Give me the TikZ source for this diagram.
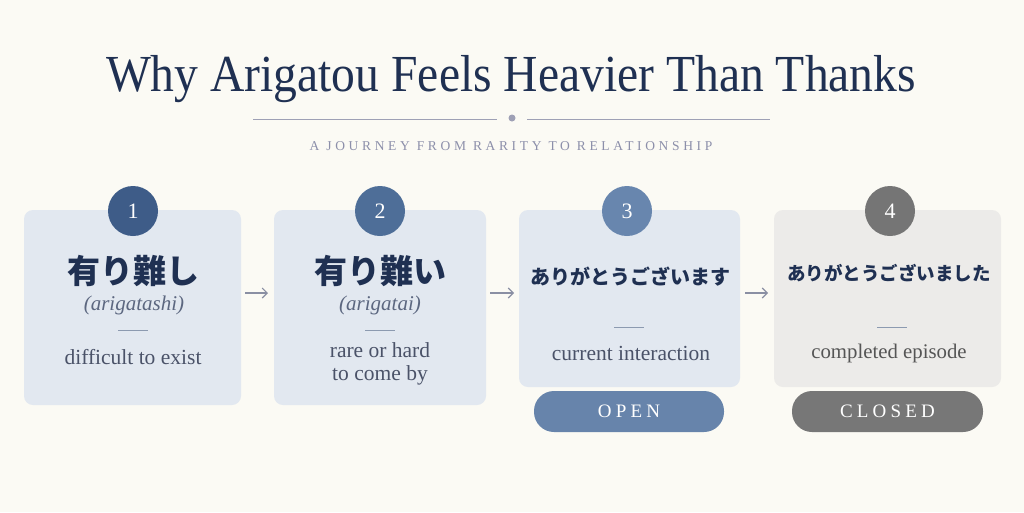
\documentclass[tikz,border=0pt]{standalone}
\usepackage{fontspec}
\setmainfont{Liberation Serif}
\newfontfamily\jp{Noto Sans CJK JP}
\newfontfamily\spaced[LetterSpace=27]{Liberation Serif}
\newfontfamily\pillfont[LetterSpace=22]{Liberation Serif}
\usetikzlibrary{arrows.meta}
\definecolor{bg}{HTML}{FBFAF4}
\definecolor{navy}{HTML}{1F3052}
\definecolor{divider}{HTML}{9EA0B5}
\definecolor{subt}{HTML}{8C8FAA}
\definecolor{cardblue}{HTML}{E2E8F0}
\definecolor{cardgray}{HTML}{ECEBE9}
\definecolor{cA}{HTML}{3E5C88}
\definecolor{cB}{HTML}{4E6E98}
\definecolor{cC}{HTML}{6886AE}
\definecolor{cD}{HTML}{757575}
\definecolor{roma}{HTML}{5C6780}
\definecolor{desc}{HTML}{4A5268}
\definecolor{descg}{HTML}{555555}
\definecolor{rule}{HTML}{8C9AB0}
\definecolor{pillblue}{HTML}{6784AB}
\definecolor{pillgray}{HTML}{777777}
\definecolor{arrowc}{HTML}{8A8FA3}
\tikzset{
  card/.style={rounded corners=9pt, inner sep=0pt, draw=none},
  badge/.style={circle, minimum size=50pt, inner sep=0pt, text=white, font=\fontsize{22}{24}\selectfont},
  kanji/.style={text=navy, font=\jp\bfseries\fontsize{33}{36}\selectfont, inner sep=0pt},
  kana/.style={text=navy, font=\jp\bfseries\fontsize{20}{22}\selectfont, inner sep=0pt},
  roman/.style={text=roma, font=\itshape\fontsize{21}{23}\selectfont, inner sep=0pt},
  descr/.style={text=desc, font=\fontsize{21.5}{23}\selectfont, inner sep=0pt, align=center},
  shortrule/.style={draw=rule, line width=0.8pt},
  pill/.style={rounded corners=20pt, inner sep=0pt, text=white, font=\pillfont\fontsize{19}{21}\selectfont},
  arr/.style={draw=arrowc, line width=1.1pt, -{Straight Barb[length=5pt,width=10pt]}}
}
\begin{document}
\begin{tikzpicture}[x=1pt,y=-1pt]
\fill[bg] (0,0) rectangle (1024,512);
\useasboundingbox (0,0) rectangle (1024,512);
% title
\node[text=navy, font=\fontsize{52}{56}\selectfont, inner sep=0pt] (title) at (511,79) {\scalebox{0.915}[1]{Why Arigatou Feels Heavier Than Thanks}};
\coordinate (l1a) at (253,119); \coordinate (l1b) at (497,119);
\coordinate (l2a) at (527,119); \coordinate (l2b) at (770,119);
\draw[divider, line width=1pt] (l1a) -- (l1b);
\draw[divider, line width=1pt] (l2a) -- (l2b);
\node[circle, fill=divider, minimum size=7pt, inner sep=0pt] (dot) at (512,118) {};
\node[text=subt, font=\spaced\fontsize{13.5}{15}\selectfont, inner sep=0pt] (subtitle) at (511,146) {A JOURNEY FROM RARITY TO RELATIONSHIP};
% cards
\node[card, fill=cardblue, minimum width=217pt, minimum height=195pt] (c1) at (132.5,307.5) {};
\node[card, fill=cardblue, minimum width=212pt, minimum height=195pt] (c2) at (380,307.5) {};
\node[card, fill=cardblue, minimum width=221pt, minimum height=177pt] (c3) at (629.5,298.5) {};
\node[card, fill=cardgray, minimum width=227pt, minimum height=177pt] (c4) at (887.5,298.5) {};
% badges
\node[badge, fill=cA] (b1) at (133,211) {1};
\node[badge, fill=cB] (b2) at (380,211) {2};
\node[badge, fill=cC] (b3) at (627,211) {3};
\node[badge, fill=cD] (b4) at (890,211) {4};
% card 1
\node[kanji] (k1) at (133,271) {有り難し};
\node[roman] (r1) at (134,305) {(arigatashi)};
\coordinate (s1a) at (118,330); \coordinate (s1b) at (148,330);
\draw[shortrule] (s1a) -- (s1b);
\node[descr] (d1) at (133,357) {difficult to exist};
% card 2
\node[kanji] (k2) at (380,271) {有り難い};
\node[roman] (r2) at (380,305) {(arigatai)};
\coordinate (s2a) at (365,330); \coordinate (s2b) at (395,330);
\draw[shortrule] (s2a) -- (s2b);
\node[descr] (d2) at (380,364) {rare or hard\\to come by};
% card 3
\node[kana] (k3) at (630,277) {ありがとうございます};
\coordinate (s3a) at (614,327); \coordinate (s3b) at (644,327);
\draw[shortrule] (s3a) -- (s3b);
\node[descr] (d3) at (631,353) {current interaction};
% card 4
\node[kana, font=\jp\bfseries\fontsize{18.5}{20}\selectfont] (k4) at (889,273) {ありがとうございました};
\coordinate (s4a) at (877,327); \coordinate (s4b) at (907,327);
\draw[shortrule] (s4a) -- (s4b);
\node[descr, text=descg, font=\fontsize{20.8}{23}\selectfont] (d4) at (889,353) {completed episode};
% pills
\node[pill, fill=pillblue, minimum width=190pt, minimum height=41pt] (p3) at (629,411.5) {OPEN};
\node[pill, fill=pillgray, minimum width=191pt, minimum height=41pt] (p4) at (887.5,411.5) {CLOSED};
% arrows
\coordinate (a1s) at (245,293); \coordinate (a1e) at (268,293);
\coordinate (a2s) at (490,293); \coordinate (a2e) at (514,293);
\coordinate (a3s) at (745,293); \coordinate (a3e) at (768,293);
\draw[arr] (a1s) -- (a1e);
\draw[arr] (a2s) -- (a2e);
\draw[arr] (a3s) -- (a3e);
\end{tikzpicture}
\end{document}
